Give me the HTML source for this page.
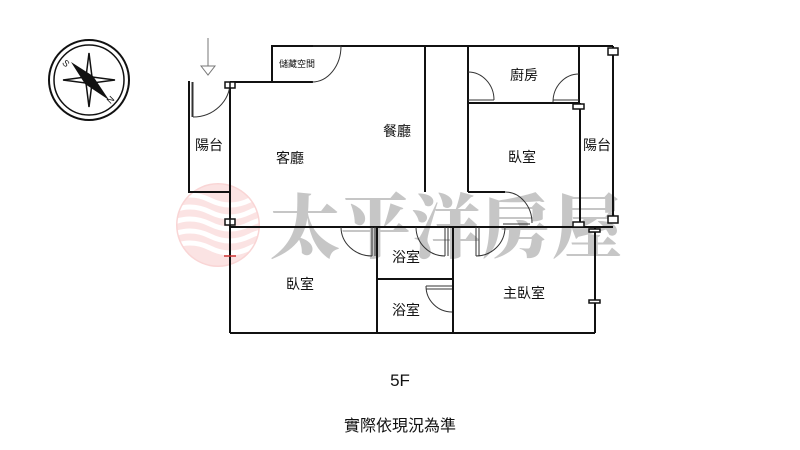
<!DOCTYPE html>
<html><head><meta charset="utf-8"><style>
html,body{margin:0;padding:0;background:#fff;width:800px;height:450px;overflow:hidden}
svg{display:block}
text{font-family:"Liberation Sans","Noto Sans CJK TC",sans-serif;fill:#111}
</style></head><body>
<svg width="800" height="450" viewBox="0 0 800 450" xmlns="http://www.w3.org/2000/svg">
<defs><clipPath id="lc"><circle cx="218" cy="225" r="42"/></clipPath></defs>
<g clip-path="url(#lc)" opacity="0.35">
<circle cx="218" cy="225" r="42" fill="#f2b0b0"/>
<g stroke="#fff" stroke-width="5" fill="none">
<path d="M170 200 q20 -10 40 0 t40 0 t40 0"/>
<path d="M170 212 q20 -10 40 0 t40 0 t40 0"/>
<path d="M170 224 q20 -10 40 0 t40 0 t40 0"/>
<path d="M170 236 q20 -10 40 0 t40 0 t40 0"/>
<path d="M170 248 q20 -10 40 0 t40 0 t40 0"/>
</g>
<circle cx="218" cy="225" r="42" fill="none" stroke="#e88" stroke-width="3"/>
</g>
<text x="270" y="252" style="font-family:'Noto Serif CJK TC','Noto Serif CJK SC',serif;font-weight:900;font-size:70px;fill:#bdbdbd;opacity:0.85" textLength="352">太平洋房屋</text>

<g transform="translate(89,80)">
<circle r="40" fill="none" stroke="#111" stroke-width="2"/>
<circle r="35" fill="none" stroke="#111" stroke-width="1.5"/>
<path d="M0 -27 L3 -3 L26 0 L3 3 L0 27 L-3 3 L-26 0 L-3 -3Z" fill="none" stroke="#111" stroke-width="1.5"/>
<path d="M-18 -18 L4 -4 L20 20 L-4 4Z" fill="#111"/>
<text x="-26" y="-16" font-size="9" transform="rotate(45 -26 -18)">S</text>
<text x="18" y="24" font-size="9" transform="rotate(-45 20 20)">N</text>
</g>

<g stroke="#777" stroke-width="1" fill="none">
<line x1="208" y1="38" x2="208" y2="74"/>
<path d="M201 66 L208 75 L215 66Z" fill="#fff"/>
</g>

<g stroke="#111" stroke-width="2" fill="none">
<polyline points="272,82 272,46 613,46"/>
<line x1="230" y1="82" x2="313" y2="82"/>
<line x1="230" y1="82" x2="230" y2="333"/>
<polyline points="189,81 189,192 230,192"/>
<line x1="425" y1="46" x2="425" y2="192"/>
<line x1="468" y1="46" x2="468" y2="192"/>
<line x1="468" y1="192" x2="505" y2="192"/>
<line x1="468" y1="103" x2="580" y2="103"/>
<line x1="579" y1="46" x2="579" y2="103"/>
<line x1="580" y1="103" x2="580" y2="227"/>
<line x1="613" y1="46" x2="613" y2="222"/>
<line x1="230" y1="227" x2="613" y2="227"/>
<line x1="230" y1="333" x2="595" y2="333"/>
<line x1="377" y1="227" x2="377" y2="333"/>
<line x1="377" y1="279" x2="453" y2="279"/>
<line x1="453" y1="227" x2="453" y2="333"/>
<line x1="595" y1="227" x2="595" y2="333"/>
</g>

<g stroke="#333" stroke-width="1" fill="none">
<path d="M341 46 A29 36 0 0 1 312 82"/><line x1="313" y1="46" x2="341" y2="46"/>
<path d="M230 82 A37 35 0 0 1 193 117"/><line x1="193" y1="82" x2="193" y2="117"/>
<path d="M468 72 A26 28 0 0 1 494 100"/><line x1="468" y1="100" x2="494" y2="100"/>
<path d="M579 74 A26 28 0 0 0 553 102"/><line x1="553" y1="100" x2="579" y2="100"/>
<path d="M505 192 A27 31 0 0 1 532 223"/><line x1="503" y1="224" x2="530" y2="224"/>
<path d="M341 227 A31 29 0 0 0 372 256"/><line x1="372" y1="227" x2="372" y2="256"/><line x1="375" y1="227" x2="375" y2="256"/>
<path d="M416 227 A29 29 0 0 0 445 256"/><line x1="445" y1="227" x2="445" y2="256"/><line x1="448" y1="227" x2="448" y2="256"/>
<path d="M505 227 A29 29 0 0 1 476 256"/><line x1="476" y1="227" x2="476" y2="256"/><line x1="479" y1="227" x2="479" y2="256"/>
<path d="M426 286 A26 26 0 0 0 452 312"/><line x1="426" y1="286" x2="452" y2="286"/><line x1="426" y1="289" x2="452" y2="289"/>
<line x1="192" y1="82" x2="192" y2="117"/>
</g>

<g fill="#fff" stroke="#111" stroke-width="1.5">
<rect x="225" y="82" width="10" height="6"/><line x1="230" y1="82" x2="230" y2="88"/>
<rect x="225" y="219" width="10" height="6"/><line x1="230" y1="219" x2="230" y2="225"/>
<rect x="608" y="48" width="10" height="7"/>
<rect x="573" y="104" width="11" height="5"/>
<rect x="573" y="222" width="11" height="5"/>
<rect x="608" y="216" width="10" height="7"/>
<rect x="589" y="229" width="11" height="3"/>
<rect x="589" y="300" width="11" height="3"/>
<line x1="224" y1="256" x2="236" y2="256" stroke="#c33"/>
</g>

<g font-size="14" text-anchor="middle">
<text x="209" y="150">陽台</text>
<text x="290" y="163">客廳</text>
<text x="397" y="136">餐廳</text>
<text x="524" y="80">廚房</text>
<text x="522" y="162">臥室</text>
<text x="597" y="150">陽台</text>
<text x="406" y="262">浴室</text>
<text x="406" y="315">浴室</text>
<text x="300" y="289">臥室</text>
<text x="524" y="298">主臥室</text>
<text x="297" y="67" font-size="9">儲藏空間</text>
<text x="400" y="386" font-size="17">5F</text>
<text x="400" y="431" font-size="16">實際依現況為準</text>
</g>
</svg>
</body></html>
